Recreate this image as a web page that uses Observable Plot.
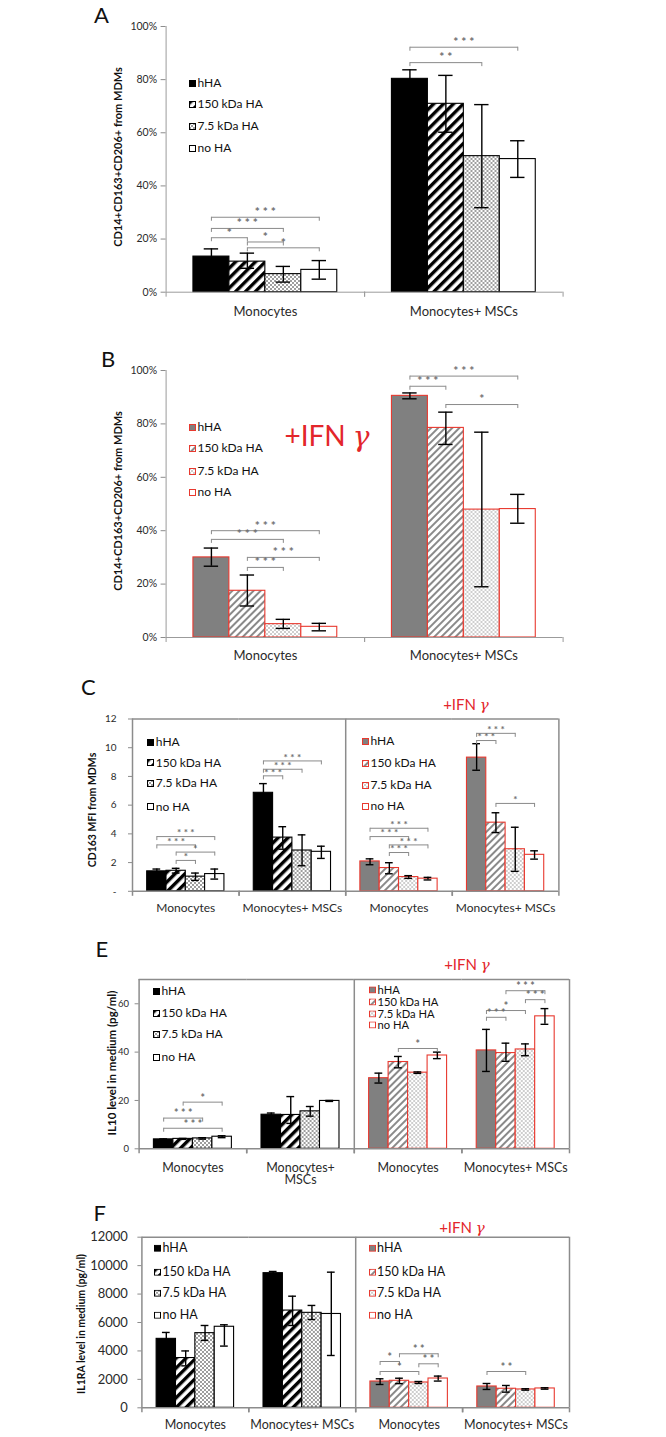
<!DOCTYPE html>
<html>
<head>
<meta charset="utf-8">
<script src="https://cdn.jsdelivr.net/npm/d3@7"></script>
<script src="https://cdn.jsdelivr.net/npm/@observablehq/plot@0.6"></script>
<style>
html,body{margin:0;padding:0;background:#fff;}
#root{position:relative;width:666px;height:1437px;overflow:hidden;font-family:Lato,"Open Sans",sans-serif;color:#222;}
#root svg.p{position:absolute;left:0;overflow:visible;background:transparent;}
#root svg.p [aria-label^="fx-axis"] text{fill:#2a2a2a;font-size:var(--cat);}
#root svg.p [aria-label^="y-axis"] text{fill:#2a2a2a;}
.t{position:absolute;white-space:pre;line-height:1;}
.letter{font-size:22px;color:#111;transform:translateY(-50%);}
.ylab{font-weight:bold;transform:translate(-50%,-50%) rotate(-90deg);color:#111;}
.ifn{color:#e3262b;transform:translate(-50%,-50%);}
.ifn i{font-family:"DejaVu Serif",serif;font-style:italic;}
.leg{display:flex;align-items:center;transform:translateY(-50%);color:#111;}
.leg svg{margin-right:1.5px;flex:none;}
</style>
</head>
<body>
<svg width="0" height="0" style="position:absolute">
<defs>
<pattern id="stripeK" patternUnits="userSpaceOnUse" width="7" height="7" patternTransform="rotate(45)">
<rect width="7" height="7" fill="#fff"/><rect width="3.4" height="7" fill="#000"/>
</pattern>
<pattern id="stripeG" patternUnits="userSpaceOnUse" width="5" height="5" patternTransform="rotate(45)">
<rect width="5" height="5" fill="#fff"/><rect width="2" height="5" fill="#8a8a8a"/>
</pattern>
<pattern id="dotK" patternUnits="userSpaceOnUse" width="4" height="4">
<rect width="4" height="4" fill="#fff"/><circle cx="1" cy="1" r="0.8" fill="#222"/><circle cx="3" cy="3" r="0.8" fill="#222"/>
</pattern>
<pattern id="dotG" patternUnits="userSpaceOnUse" width="4" height="4">
<rect width="4" height="4" fill="#fff"/><circle cx="1" cy="1" r="0.7" fill="#777"/><circle cx="3" cy="3" r="0.7" fill="#777"/>
</pattern>
</defs>
</svg>
<div id="root"></div>
<script>
// ---------- data ----------
const series = ["hHA", "150 kDa HA", "7.5 kDa HA", "no HA"];
const groups = ["Monocytes", "Monocytes+ MSCs"];
const splitKeys = ["ctrl|Monocytes", "ctrl|Monocytes+ MSCs", "ifn|Monocytes", "ifn|Monocytes+ MSCs"];
const splitLabels = ["Monocytes", "Monocytes+ MSCs", "Monocytes", "Monocytes+ MSCs"];
const E_catLabels = ["Monocytes", "Monocytes+\nMSCs", "Monocytes", "Monocytes+ MSCs"];
const ifnPrefix = "+IFN ";
const ifnGreek = "γ";
const panelLetters = ["A", "B", "C", "E", "F"];
const yTitles = ["CD14+CD163+CD206+ from MDMs", "CD14+CD163+CD206+ from MDMs", "CD163 MFI from MDMs", "IL10 level in medium (pg/ml)", "IL1RA level in medium (pg/ml)"];

const pctTicks = [0, 20, 40, 60, 80, 100];
const C_ticks = [0, 2, 4, 6, 8, 10, 12];
const E_ticks = [0, 20, 40, 60];
const F_ticks = [0, 2000, 4000, 6000, 8000, 10000, 12000];

// A: % CD14+CD163+CD206+ (Monocytes x4, Monocytes+MSCs x4)
const A_mean = [13.4, 11.5, 6.8, 8.4, 80.3, 70.9, 51.2, 50.1];
const A_hi   = [16.3, 14.7, 9.7, 11.9, 83.7, 81.6, 70.6, 57.0];
const A_lo   = [10.5, 9.0, 3.8, 4.9, 76.9, 60.2, 31.8, 43.2];
const A_sig = [
  ["Monocytes", "hHA", "no HA", 28.2, "***"],
  ["Monocytes", "hHA", "7.5 kDa HA", 24.0, "***"],
  ["Monocytes", "hHA", "150 kDa HA", 20.5, "*"],
  ["Monocytes", "150 kDa HA", "7.5 kDa HA", 18.9, "*"],
  ["Monocytes", "150 kDa HA", "no HA", 16.7, "*"],
  ["Monocytes+ MSCs", "hHA", "no HA", 92.2, "***"],
  ["Monocytes+ MSCs", "hHA", "7.5 kDa HA", 86.4, "**"]
];

// B: +IFN gamma
const B_mean = [30.0, 17.5, 5.0, 4.0, 90.5, 78.5, 47.9, 48.1];
const B_hi   = [33.5, 23.4, 6.8, 5.3, 91.6, 84.4, 76.9, 53.6];
const B_lo   = [26.7, 11.8, 3.4, 2.5, 89.4, 72.3, 19.0, 42.8];
const B_sig = [
  ["Monocytes", "hHA", "no HA", 40.0, "***"],
  ["Monocytes", "hHA", "7.5 kDa HA", 36.75, "***"],
  ["Monocytes", "150 kDa HA", "no HA", 30.0, "***"],
  ["Monocytes", "150 kDa HA", "7.5 kDa HA", 26.25, "***"],
  ["Monocytes+ MSCs", "hHA", "no HA", 97.9, "***"],
  ["Monocytes+ MSCs", "hHA", "150 kDa HA", 94.1, "***"],
  ["Monocytes+ MSCs", "150 kDa HA", "no HA", 87.25, "*"]
];

// C: CD163 MFI (ctrl Mono, ctrl MSC, IFN Mono, IFN MSC)
const C_mean = [1.39, 1.43, 1.02, 1.2, 6.86, 3.74, 2.84, 2.75, 2.08, 1.62, 0.99, 0.88, 9.31, 4.78, 2.93, 2.54];
const C_hi   = [1.55, 1.6, 1.27, 1.55, 7.5, 4.5, 3.93, 3.14, 2.26, 1.99, 1.09, 0.97, 10.28, 5.47, 4.46, 2.82];
const C_lo   = [1.22, 1.27, 0.76, 0.85, 6.24, 2.93, 1.78, 2.29, 1.85, 1.22, 0.9, 0.79, 8.43, 4.09, 1.39, 2.24];
const C_sig = [
  ["ctrl|Monocytes", "hHA", "no HA", 3.81, "***"],
  ["ctrl|Monocytes", "hHA", "7.5 kDa HA", 3.23, "***"],
  ["ctrl|Monocytes", "150 kDa HA", "no HA", 2.73, "*"],
  ["ctrl|Monocytes", "150 kDa HA", "7.5 kDa HA", 2.15, "*"],
  ["ctrl|Monocytes+ MSCs", "hHA", "no HA", 9.08, "***"],
  ["ctrl|Monocytes+ MSCs", "hHA", "7.5 kDa HA", 8.5, "***"],
  ["ctrl|Monocytes+ MSCs", "hHA", "150 kDa HA", 8.04, "***"],
  ["ifn|Monocytes", "hHA", "no HA", 4.39, "***"],
  ["ifn|Monocytes", "hHA", "7.5 kDa HA", 3.81, "***"],
  ["ifn|Monocytes", "150 kDa HA", "no HA", 3.23, "***"],
  ["ifn|Monocytes", "150 kDa HA", "7.5 kDa HA", 2.7, "***"],
  ["ifn|Monocytes+ MSCs", "hHA", "7.5 kDa HA", 11.0, "***"],
  ["ifn|Monocytes+ MSCs", "hHA", "150 kDa HA", 10.5, "***"],
  ["ifn|Monocytes+ MSCs", "150 kDa HA", "no HA", 6.12, "*"]
];

// E: IL10 (pg/ml)
const E_mean = [3.9, 4.1, 4.3, 5.0, 14.1, 14.0, 15.5, 19.8, 29.2, 35.9, 31.5, 38.6, 40.7, 39.6, 41.1, 54.8];
const E_hi   = [4.1, 4.3, 4.6, 5.4, 14.8, 21.6, 17.5, 20.0, 31.3, 38.2, 31.8, 40.0, 49.4, 43.7, 43.4, 58.0];
const E_lo   = [3.7, 3.9, 4.0, 4.6, 13.4, 10.5, 13.5, 19.6, 27.2, 33.5, 31.2, 37.3, 32.0, 36.2, 38.5, 51.5];
const E_sig = [
  ["ctrl|Monocytes", "150 kDa HA", "no HA", 19.3, "*"],
  ["ctrl|Monocytes", "hHA", "7.5 kDa HA", 12.7, "***"],
  ["ctrl|Monocytes", "hHA", "no HA", 8.5, "***"],
  ["ifn|Monocytes", "150 kDa HA", "no HA", 41.5, "*"],
  ["ifn|Monocytes+ MSCs", "150 kDa HA", "no HA", 65.4, "***"],
  ["ifn|Monocytes+ MSCs", "7.5 kDa HA", "no HA", 61.7, "***"],
  ["ifn|Monocytes+ MSCs", "hHA", "7.5 kDa HA", 57.2, "*"],
  ["ifn|Monocytes+ MSCs", "hHA", "150 kDa HA", 54.4, "***"]
];

// F: IL1RA (pg/ml)
const F_mean = [4850, 3500, 5250, 5700, 9470, 6840, 6680, 6600, 1850, 1900, 1780, 2060, 1500, 1340, 1290, 1360];
const F_hi   = [5300, 4000, 5790, 5840, 9590, 7850, 7200, 9540, 2040, 2080, 1850, 2230, 1710, 1570, 1340, 1410];
const F_lo   = [4400, 2950, 4740, 4340, 9350, 5790, 6210, 3680, 1640, 1700, 1710, 1880, 1290, 1100, 1240, 1310];
const F_sig = [
  ["ifn|Monocytes", "150 kDa HA", "no HA", 3800, "**"],
  ["ifn|Monocytes", "hHA", "150 kDa HA", 3257, "*"],
  ["ifn|Monocytes", "7.5 kDa HA", "no HA", 3095, "**"],
  ["ifn|Monocytes", "hHA", "7.5 kDa HA", 2553, "*"],
  ["ifn|Monocytes+ MSCs", "hHA", "7.5 kDa HA", 2553, "**"]
];

// ---------- styles ----------
const FILL = {ctrl: ["#000", "url(#stripeK)", "url(#dotK)", "#fff"], ifn: ["#808080", "url(#stripeG)", "url(#dotG)", "#fff"]};
const STROKE = {ctrl: "#000", ifn: "#e8392f"};
const PO = 0.76;

const root = document.getElementById("root");

function buildRows(keys, conds, mean, hi, lo) {
  return keys.flatMap((key, gi) => series.map((s, si) => ({
    key, cond: conds[gi], series: s, si,
    mean: mean[gi * 4 + si], hi: hi[gi * 4 + si], lo: lo[gi * 4 + si]
  })));
}
function buildSig(list) {
  return list.map(([key, a, b, level, label]) => ({
    key, a, b, level, label: label.split("").join(" "),
    span: series.indexOf(b) - series.indexOf(a)
  }));
}

function makePanel(c) {
  const n = c.keys.length;
  const fw = (c.R - c.L) / n;
  const step = fw / (series.length + 2 * PO);
  const off = (0.5 + PO) * step;
  const u = c.ymax / (c.B - c.T);
  const data = buildRows(c.keys, c.conds, c.mean, c.hi, c.lo);
  const sig = buildSig(c.sig);
  const ends = sig.flatMap(d => [{key: d.key, s: d.a, level: d.level}, {key: d.key, s: d.b, level: d.level}]);
  const edges = c.keys.map(key => ({key}));
  const first = series[0], last = series[series.length - 1];
  const ac = c.axisColor, aw = c.axisWidth;
  const marks = [
    Plot.barY(data, {fx: "key", x: "series", y: "mean", fill: d => FILL[d.cond][d.si], stroke: d => STROKE[d.cond], strokeWidth: 1.1}),
    Plot.ruleX(data, {fx: "key", x: "series", y1: "lo", y2: "hi", stroke: "#000", strokeWidth: 1.4}),
    Plot.tickY(data, {fx: "key", x: "series", y: "hi", stroke: "#000", strokeWidth: 1.4, insetLeft: step * 0.3, insetRight: step * 0.3}),
    Plot.tickY(data, {fx: "key", x: "series", y: "lo", stroke: "#000", strokeWidth: 1.4, insetLeft: step * 0.3, insetRight: step * 0.3}),
    Plot.ruleY([0], {stroke: ac, strokeWidth: aw}),
    Plot.ruleX(edges, {fx: "key", x: () => first, dx: -off, y1: 0, y2: -5 * u, stroke: ac, strokeWidth: aw}),
    Plot.ruleX(edges, {fx: "key", x: () => last, dx: off, y1: 0, y2: -5 * u, stroke: ac, strokeWidth: aw}),
    Plot.ruleX(edges.slice(0, 1), {fx: "key", x: () => first, dx: -off, y1: 0, y2: c.ymax, stroke: ac, strokeWidth: aw})
  ];
  if (c.boxed) {
    marks.push(Plot.ruleY([c.ymax], {stroke: ac, strokeWidth: aw}));
    marks.push(Plot.ruleX([edges[1], edges[3]], {fx: "key", x: () => last, dx: off, y1: 0, y2: c.ymax, stroke: ac, strokeWidth: aw}));
  }
  marks.push(Plot.link(sig, {fx: "key", x1: "a", x2: "b", y1: "level", y2: "level", stroke: "#8a8a8a", strokeWidth: 1}));
  marks.push(Plot.ruleX(ends, {fx: "key", x: "s", y1: "level", y2: d => d.level - 4 * u, stroke: "#8a8a8a", strokeWidth: 1}));
  for (const s of [1, 2, 3]) {
    const sub = sig.filter(d => d.span === s);
    if (sub.length) marks.push(Plot.text(sub, {fx: "key", x: "a", y: "level", text: "label", dx: s * step / 2, dy: c.starDy, fill: "#6f6f6f", fontSize: c.starFont, fontWeight: "bold"}));
  }
  const plot = Plot.plot({
    width: 666,
    height: c.B - c.svgTop + c.padBottom,
    marginTop: c.T - c.svgTop,
    marginBottom: c.padBottom,
    marginLeft: c.L,
    marginRight: 666 - c.R,
    style: {background: "transparent", fontFamily: "Lato, 'Open Sans', sans-serif", fontSize: c.tickFont + "px", color: "#8c8c8c", overflow: "visible"},
    fx: {domain: c.keys, paddingInner: 0, paddingOuter: 0, round: false, axis: "bottom", label: null, tickSize: 0, tickPadding: c.catPad, tickFormat: k => c.labels[c.keys.indexOf(k)]},
    x: {domain: series, paddingInner: 0, paddingOuter: PO, round: false, axis: null},
    y: {domain: [0, c.ymax], ticks: c.ticks, tickFormat: c.fmt, label: null, tickSize: c.tickSize, tickPadding: c.tickPad},
    color: {type: "identity"},
    marks
  });
  plot.classList.add("p");
  plot.style.top = c.svgTop + "px";
  plot.style.setProperty("--cat", c.catFont + "px");
  root.append(plot);
}

function addText(cls, txt, x, y, size, extra) {
  const d = document.createElement("div");
  d.className = "t " + cls;
  d.textContent = txt;
  d.style.left = x + "px";
  d.style.top = y + "px";
  d.style.fontSize = size + "px";
  if (extra) Object.assign(d.style, extra);
  root.append(d);
  return d;
}
function addIfn(x, y, size) {
  const d = addText("ifn", ifnPrefix, x, y, size);
  const g = document.createElement("i");
  g.textContent = ifnGreek;
  d.append(g);
}
function addLegend(x, ys, cond, size) {
  series.forEach((s, i) => {
    const d = document.createElement("div");
    d.className = "t leg";
    d.style.left = x + "px";
    d.style.top = ys[i] + "px";
    d.style.fontSize = size + "px";
    d.innerHTML = `<svg width="7" height="7"><rect x="0.5" y="0.5" width="6" height="6" fill="${FILL[cond][i]}" stroke="${STROKE[cond]}" stroke-width="1"/></svg>`;
    const sp = document.createElement("span");
    sp.textContent = s;
    d.append(sp);
    root.append(d);
  });
}

const pctFmt = d => d + "%";
const plainFmt = d => String(d);
const panels = [
  {keys: groups, labels: groups, conds: ["ctrl", "ctrl"], mean: A_mean, hi: A_hi, lo: A_lo, sig: A_sig,
   ymax: 100, ticks: pctTicks, fmt: pctFmt, L: 165.6, R: 562.6, T: 26, B: 291.7, svgTop: 10, padBottom: 40,
   tickFont: 10.5, catFont: 13, tickSize: 5, tickPad: 4, catPad: 15, axisColor: "#9b9b9b", axisWidth: 1, boxed: false, starFont: 12, starDy: -5},
  {keys: groups, labels: groups, conds: ["ifn", "ifn"], mean: B_mean, hi: B_hi, lo: B_lo, sig: B_sig,
   ymax: 100, ticks: pctTicks, fmt: pctFmt, L: 165.6, R: 562.6, T: 370, B: 637, svgTop: 355, padBottom: 35,
   tickFont: 10.5, catFont: 13, tickSize: 5, tickPad: 4, catPad: 13, axisColor: "#9b9b9b", axisWidth: 1, boxed: false, starFont: 12, starDy: -5},
  {keys: splitKeys, labels: splitLabels, conds: ["ctrl", "ctrl", "ifn", "ifn"], mean: C_mean, hi: C_hi, lo: C_lo, sig: C_sig,
   ymax: 12, ticks: C_ticks, fmt: d => d === 0 ? "-" : String(d), L: 132, R: 558.4, T: 718.5, B: 890.8, svgTop: 700, padBottom: 35,
   tickFont: 10, catFont: 12, tickSize: 4, tickPad: 12, catPad: 12.5, axisColor: "#8c8c8c", axisWidth: 1.5, boxed: true, starFont: 10, starDy: -3.5},
  {keys: splitKeys, labels: E_catLabels, conds: ["ctrl", "ctrl", "ifn", "ifn"], mean: E_mean, hi: E_hi, lo: E_lo, sig: E_sig,
   ymax: 70, ticks: E_ticks, fmt: plainFmt, L: 138.6, R: 569, T: 979.1, B: 1148.3, svgTop: 970, padBottom: 50,
   tickFont: 9.5, catFont: 12.5, tickSize: 4, tickPad: 6, catPad: 14, axisColor: "#8c8c8c", axisWidth: 1.5, boxed: true, starFont: 10.5, starDy: -4},
  {keys: splitKeys, labels: splitLabels, conds: ["ctrl", "ctrl", "ifn", "ifn"], mean: F_mean, hi: F_hi, lo: F_lo, sig: F_sig,
   ymax: 12000, ticks: F_ticks, fmt: plainFmt, L: 141.4, R: 569, T: 1236.7, B: 1407.3, svgTop: 1225, padBottom: 29,
   tickFont: 13, catFont: 12.5, tickSize: 4, tickPad: 10, catPad: 12.5, axisColor: "#8c8c8c", axisWidth: 1.5, boxed: true, starFont: 10.5, starDy: -4}
];
panels.forEach(makePanel);

// panel letters
const letterPos = [[94, 15], [101, 359], [81, 687], [95.5, 949], [93.4, 1213]];
panelLetters.forEach((t, i) => addText("letter", t, letterPos[i][0], letterPos[i][1], 22));

// y-axis titles
const yTitlePos = [[116.5, 157, 11], [116.5, 501, 11], [92.2, 810, 10.5], [111.5, 1063, 11.5], [81, 1324, 10.5]];
yTitles.forEach((t, i) => addText("ylab", t, yTitlePos[i][0], yTitlePos[i][1], yTitlePos[i][2]));

// +IFN gamma labels
addIfn(327, 436, 28);
addIfn(466, 705, 15);
addIfn(467, 965, 15);
addIfn(462, 1228, 15);

// legends
addLegend(189, [83, 104, 126, 148], "ctrl", 12);
addLegend(189, [427, 448, 471, 492], "ifn", 12);
addLegend(147.3, [742, 762.7, 783.3, 806.7], "ctrl", 12);
addLegend(362, [741, 763, 785, 806], "ifn", 12);
addLegend(153, [991, 1013, 1034, 1057], "ctrl", 12);
addLegend(369, [990, 1002, 1013.5, 1025], "ifn", 11.2);
addLegend(154, [1248, 1272, 1293, 1315], "ctrl", 12.5);
addLegend(368.6, [1248, 1272, 1293, 1315], "ifn", 12.5);
</script>
</body>
</html>
